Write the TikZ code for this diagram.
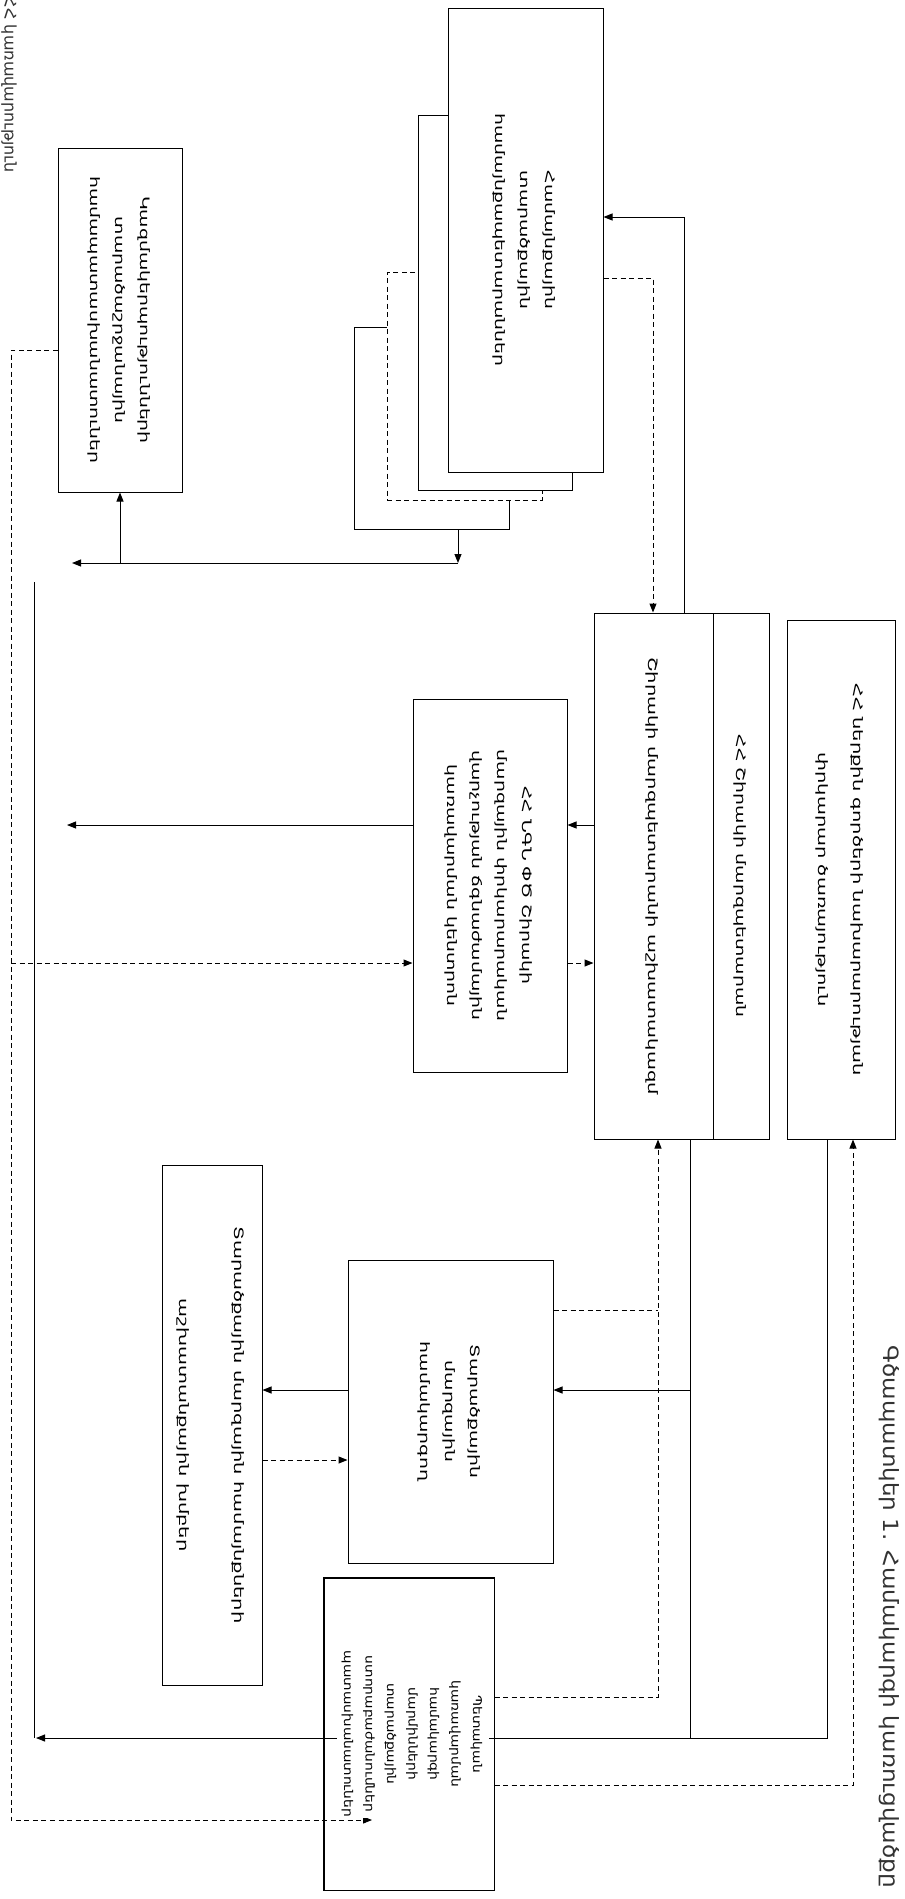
\documentclass[tikz,border=0pt]{standalone}
\usepackage{fontspec}
\setmainfont{DejaVu Sans}
\usepackage{graphicx}
\usetikzlibrary{arrows.meta}

\newcommand{\vlines}[2][1.45]{\rotatebox{-90}{\scalebox{#1}[1]{\fontsize{13}{25}\selectfont\begin{tabular}{@{}c@{}}#2\end{tabular}}}}

\begin{document}
\begin{tikzpicture}[x=1pt, y=-1pt,
  blk/.style={draw, line width=1pt, fill=white, inner sep=0pt},
  ln/.style={line width=1pt},
  arr/.style={ln, -{Triangle[length=9pt,width=7pt]}},
  dsh/.style={ln, dash pattern=on 5pt off 3.5pt},
  darr/.style={dsh, -{Triangle[length=9pt,width=7pt]}}]
\useasboundingbox (0,0) rectangle (905,1899);

% captions at the edges
\node[text=black!80, inner sep=0pt] (ttl) at (9,85) {\rotatebox{-90}{\fontsize{16}{18}\selectfont ՀՀ կառավարություն}};
\node[text=black!80, inner sep=0pt] (cap) at (889,1617) {\rotatebox{-90}{\scalebox{1.1}[1]{\fontsize{21}{23}\selectfont Գծապատկեր 1. Համակարգի կառուցվածքը}}};

% boxes
\node[blk, minimum width=124, minimum height=344] (org) at (120,320)
  {\vlines{Կազմակերպությունների\\տարածաշրջանային\\համապատասխանատուներ}};
\node[blk, minimum width=155, minimum height=202] (stk4) at (431.5,428) {};
\node[blk, dsh, minimum width=155, minimum height=228] (stk3) at (464.5,386) {};
\node[blk, minimum width=154, minimum height=375] (stk2) at (495,302.5) {};
\node[blk, minimum width=155, minimum height=464] (stk1) at (525.5,240)
  {\vlines{Համայնքային\\տարածքային\\համայնքապետարաններ}};
\node[blk, minimum width=154, minimum height=373] (rescue) at (490,885.5)
  {\vlines{ՀՀ ՆԳՆ ՓԾ Շիրակի\\մարզային փրկարարական\\վարչության ճգնաժամային\\կառավարման կենտրոն}};
\node[blk, minimum width=119, minimum height=526] (staff) at (653.5,876)
  {\vlines[1.5]{Շիրակի մարզպետարանի աշխատակազմ}};
\node[blk, minimum width=56, minimum height=526] (gov) at (741,876)
  {\vlines{ՀՀ Շիրակի մարզպետարան}};
\node[blk, minimum width=108, minimum height=519] (moi) at (841,879.5)
  {\vlines[1.5]{ՀՀ ներքին գործերի նախարարության\\[10pt]փրկարար ծառայություն}};
\node[blk, minimum width=205, minimum height=303] (terr) at (450.5,1411.5)
  {\vlines{Տարածքային\\մարզային\\համակարգող}};
\node[blk, minimum width=100, minimum height=520] (grp) at (212,1425)
  {\vlines[1.5]{Տարածքային մարզային համայնքների\\[30pt]աշխատանքային խմբեր}};
\node[draw, line width=1pt, minimum width=170, minimum height=312] (state) at (409,1734) {};

% solid links
\coordinate (up1) at (684,217);
\draw[arr] (staff.north -| up1) -- (up1) -- (stk1.east |- up1);
\coordinate (bus) at (458,563);
\coordinate (outA) at (72,563);
\draw[arr] (stk4.south -| bus) -- (bus);
\draw[arr] (bus) -- (outA);
\draw[arr] (org.south |- bus) -- (org.south);
\coordinate (yc) at (0,825);
\coordinate (outC) at (67,825);
\draw[arr] (staff.west |- yc) -- (rescue.east |- yc);
\draw[arr] (rescue.west |- yc) -- (outC);
\coordinate (xd) at (690,1738);
\coordinate (xe) at (827,1738);
\coordinate (outH) at (36,1738);
\coordinate (lbus) at (34,582);
\draw[ln] (staff.south -| xd) -- (xd);
\draw[arr] (moi.south -| xe) -- (xe) -- (outH);
\draw[ln] (lbus |- xe) -- (lbus);
\coordinate (yf) at (690,1390);
\draw[arr] (yf) -- (terr.east |- yf);
\draw[arr] (terr.west |- yf) -- (grp.east |- yf);

% dashed links
\coordinate (dn1) at (653,278);
\draw[darr] (stk1.east |- dn1) -- (dn1) -- (staff.north -| dn1);
\coordinate (dl1) at (11,350);
\coordinate (dl2) at (11,1820);
\coordinate (hin) at (372,1820);
\draw[darr] (org.west |- dl1) -- (dl1) -- (dl2) -- (hin);
\coordinate (dl3) at (11,963);
\draw[darr] (dl3) -- (rescue.west |- dl3);
\draw[darr] (rescue.east |- dl3) -- (staff.west |- dl3);
\coordinate (yg) at (0,1460);
\draw[darr] (grp.east |- yg) -- (terr.west |- yg);
\coordinate (fd) at (658,1310);
\coordinate (hd) at (658,1697);
\draw[dsh] (terr.east |- fd) -- (fd);
\draw[darr] (state.east |- hd) -- (hd) -- (staff.south -| hd);
\coordinate (he) at (853,1785);
\draw[darr] (state.east |- he) -- (he) -- (moi.south -| he);

% text of the bottom box over the links
\node[fill=white, inner sep=1pt] (statetxt) at ([xshift=4pt]state.center)
  {\rotatebox{-90}{\scalebox{1.15}[1]{\fontsize{12}{21.5}\selectfont\begin{tabular}{@{}c@{}}Պետական\\կառավարման\\համակարգի\\մարմինների\\տարածքային\\ստորաբաժանումներ\\պատասխանատուներ\end{tabular}}}};
\draw[ln] (state.north west) rectangle (state.south east);
\end{tikzpicture}
\end{document}
